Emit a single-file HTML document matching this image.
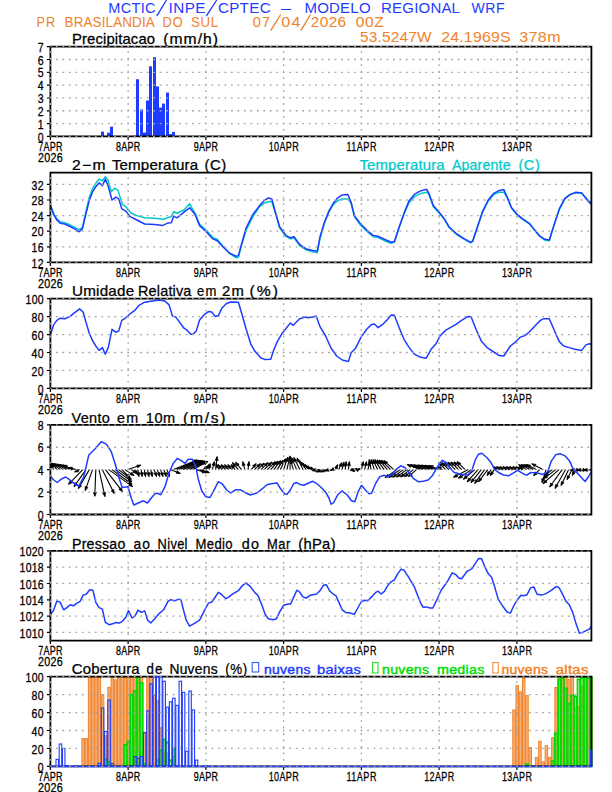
<!DOCTYPE html>
<html><head><meta charset="utf-8"><style>
html,body{margin:0;padding:0;background:#fff;width:612px;height:792px;overflow:hidden}
svg{display:block}
text{font-family:"Liberation Sans", sans-serif;white-space:pre}
</style></head><body>
<svg width="612" height="792" viewBox="0 0 612 792">
<rect width="612" height="792" fill="#fff"/>
<text transform="translate(281.10,12.50) scale(1.25,1)" font-size="14.5" fill="#1e3cff" text-anchor="start" textLength="8.96" lengthAdjust="spacing">–</text>
<text transform="translate(108.30,12.50) scale(1.0039198606271775,1)" font-size="14.5" fill="#1e3cff" text-anchor="start" textLength="47.12" lengthAdjust="spacing">MCTIC</text>
<path d="M157.00,15.60L166.20,0.50" stroke="#1e3cff" stroke-width="1.35" stroke-linecap="round"/>
<text transform="translate(168.60,12.50) scale(1.0579196217494091,1)" font-size="14.5" fill="#1e3cff" text-anchor="start" textLength="34.97" lengthAdjust="spacing">INPE</text>
<path d="M206.60,15.60L216.40,0.50" stroke="#1e3cff" stroke-width="1.35" stroke-linecap="round"/>
<text transform="translate(217.90,12.50) scale(1.04759967453214,1)" font-size="14.5" fill="#1e3cff" text-anchor="start" textLength="50.31" lengthAdjust="spacing">CPTEC</text>
<text transform="translate(304.40,12.50) scale(1.034373010821133,1)" font-size="14.5" fill="#1e3cff" text-anchor="start" textLength="64.00" lengthAdjust="spacing">MODELO</text>
<text transform="translate(381.10,12.50) scale(1.0368294635708566,1)" font-size="14.5" fill="#1e3cff" text-anchor="start" textLength="76.10" lengthAdjust="spacing">REGIONAL</text>
<text transform="translate(471.40,12.50) scale(0.9691096305269533,1)" font-size="14.5" fill="#1e3cff" text-anchor="start" textLength="34.26" lengthAdjust="spacing">WRF</text>
<text transform="translate(36.60,27.00) scale(0.88,1)" font-size="14.5" fill="#f08228" text-anchor="start" textLength="21.14" lengthAdjust="spacing">PR</text>
<text transform="translate(64.60,27.00) scale(0.9279532895422791,1)" font-size="14.5" fill="#f08228" text-anchor="start" textLength="97.20" lengthAdjust="spacing">BRASILANDIA</text>
<text transform="translate(162.40,27.00) scale(0.88,1)" font-size="14.5" fill="#f08228" text-anchor="start" textLength="22.95" lengthAdjust="spacing">DO</text>
<text transform="translate(191.10,27.00) scale(0.9142452161587531,1)" font-size="14.5" fill="#f08228" text-anchor="start" textLength="29.53" lengthAdjust="spacing">SUL</text>
<text transform="translate(252.70,27.00) scale(1.0099132589838917,1)" font-size="14.5" fill="#f08228" text-anchor="start" textLength="17.33" lengthAdjust="spacing">07</text>
<path d="M271.00,30.10L280.40,15.00" stroke="#f08228" stroke-width="1.35" stroke-linecap="round"/>
<text transform="translate(281.30,27.00) scale(1.1090458488228025,1)" font-size="14.5" fill="#f08228" text-anchor="start" textLength="17.22" lengthAdjust="spacing">04</text>
<path d="M301.20,30.10L310.20,15.00" stroke="#f08228" stroke-width="1.35" stroke-linecap="round"/>
<text transform="translate(310.70,27.00) scale(1.0629067245119308,1)" font-size="14.5" fill="#f08228" text-anchor="start" textLength="33.40" lengthAdjust="spacing">2026</text>
<text transform="translate(355.80,27.00) scale(1.0760000000000014,1)" font-size="14.5" fill="#f08228" text-anchor="start" textLength="26.12" lengthAdjust="spacing">00Z</text>
<text transform="translate(360.10,42.00) scale(1.0633792164574196,1)" font-size="14.5" fill="#f08228" text-anchor="start" textLength="67.24" lengthAdjust="spacing">53.5247W</text>
<text transform="translate(441.20,42.00) scale(1.0984055403446606,1)" font-size="14.5" fill="#f08228" text-anchor="start" textLength="63.18" lengthAdjust="spacing">24.1969S</text>
<text transform="translate(519.20,42.00) scale(1.1080485115766274,1)" font-size="14.5" fill="#f08228" text-anchor="start" textLength="37.36" lengthAdjust="spacing">378m</text>
<text transform="translate(71.90,44.40) scale(1.064243997404283,1)" font-size="14" fill="#000" text-anchor="start" textLength="78.18" lengthAdjust="spacing" stroke="#000" stroke-width="0.25">Precipitacao</text>
<text transform="translate(163.15,44.40) scale(1.12,1)" font-size="14" fill="#000" text-anchor="start" textLength="49.06" lengthAdjust="spacing" stroke="#000" stroke-width="0.25">(mm/h)</text>
<text transform="translate(71.90,170.40) scale(1.12,1)" font-size="14" fill="#000" text-anchor="start" textLength="30.09" lengthAdjust="spacing" stroke="#000" stroke-width="0.25">2−m</text>
<text transform="translate(111.90,170.40) scale(1.0815625397633286,1)" font-size="14" fill="#000" text-anchor="start" textLength="79.70" lengthAdjust="spacing" stroke="#000" stroke-width="0.25">Temperatura</text>
<text transform="translate(204.40,170.40) scale(1.0648148148148142,1)" font-size="14" fill="#000" text-anchor="start" textLength="20.57" lengthAdjust="spacing" stroke="#000" stroke-width="0.25">(C)</text>
<text transform="translate(359.40,170.40) scale(1.0688382745896423,1)" font-size="14" fill="#00c8c8" text-anchor="start" textLength="79.71" lengthAdjust="spacing" stroke="#00c8c8" stroke-width="0.25">Temperatura</text>
<text transform="translate(451.90,170.40) scale(1.011789547774063,1)" font-size="14" fill="#00c8c8" text-anchor="start" textLength="58.02" lengthAdjust="spacing" stroke="#00c8c8" stroke-width="0.25">Aparente</text>
<text transform="translate(518.40,170.40) scale(1.0390946502057636,1)" font-size="14" fill="#00c8c8" text-anchor="start" textLength="20.59" lengthAdjust="spacing" stroke="#00c8c8" stroke-width="0.25">(C)</text>
<text transform="translate(72.10,296.40) scale(1.0851329644833125,1)" font-size="14" fill="#000" text-anchor="start" textLength="57.14" lengthAdjust="spacing" stroke="#000" stroke-width="0.25">Umidade</text>
<text transform="translate(138.00,296.40) scale(1.0318244712393756,1)" font-size="14" fill="#000" text-anchor="start" textLength="51.75" lengthAdjust="spacing" stroke="#000" stroke-width="0.25">Relativa</text>
<text transform="translate(197.10,296.40) scale(0.930591259640104,1)" font-size="14" fill="#000" text-anchor="start" textLength="20.74" lengthAdjust="spacing" stroke="#000" stroke-width="0.25">em</text>
<text transform="translate(222.10,296.40) scale(1.059125964010284,1)" font-size="14" fill="#000" text-anchor="start" textLength="20.58" lengthAdjust="spacing" stroke="#000" stroke-width="0.25">2m</text>
<text transform="translate(249.60,296.40) scale(1.12,1)" font-size="14" fill="#000" text-anchor="start" textLength="25.45" lengthAdjust="spacing" stroke="#000" stroke-width="0.25">(%)</text>
<text transform="translate(71.50,422.50) scale(1.0354451576890877,1)" font-size="14" fill="#000" text-anchor="start" textLength="36.99" lengthAdjust="spacing" stroke="#000" stroke-width="0.25">Vento</text>
<text transform="translate(117.00,422.50) scale(1.0231362467866327,1)" font-size="14" fill="#000" text-anchor="start" textLength="20.62" lengthAdjust="spacing" stroke="#000" stroke-width="0.25">em</text>
<text transform="translate(145.70,422.50) scale(1.0392948953360257,1)" font-size="14" fill="#000" text-anchor="start" textLength="28.38" lengthAdjust="spacing" stroke="#000" stroke-width="0.25">10m</text>
<text transform="translate(183.10,422.50) scale(1.12,1)" font-size="14" fill="#000" text-anchor="start" textLength="37.95" lengthAdjust="spacing" stroke="#000" stroke-width="0.25">(m/s)</text>
<text transform="translate(72.00,548.50) scale(1.0144080996884737,1)" font-size="14" fill="#000" text-anchor="start" textLength="52.54" lengthAdjust="spacing" stroke="#000" stroke-width="0.25">Pressao</text>
<text transform="translate(133.40,548.50) scale(0.9884467265725292,1)" font-size="14" fill="#000" text-anchor="start" textLength="16.79" lengthAdjust="spacing" stroke="#000" stroke-width="0.25">ao</text>
<text transform="translate(157.60,548.50) scale(0.9222365038560416,1)" font-size="14" fill="#000" text-anchor="start" textLength="32.42" lengthAdjust="spacing" stroke="#000" stroke-width="0.25">Nivel</text>
<text transform="translate(195.60,548.50) scale(0.9386470896696385,1)" font-size="14" fill="#000" text-anchor="start" textLength="39.42" lengthAdjust="spacing" stroke="#000" stroke-width="0.25">Medio</text>
<text transform="translate(241.70,548.50) scale(1.0269576379974326,1)" font-size="14" fill="#000" text-anchor="start" textLength="16.75" lengthAdjust="spacing" stroke="#000" stroke-width="0.25">do</text>
<text transform="translate(266.90,548.50) scale(0.9203980099502482,1)" font-size="14" fill="#000" text-anchor="start" textLength="25.42" lengthAdjust="spacing" stroke="#000" stroke-width="0.25">Mar</text>
<text transform="translate(298.20,548.50) scale(1.057551855097867,1)" font-size="14" fill="#000" text-anchor="start" textLength="35.36" lengthAdjust="spacing" stroke="#000" stroke-width="0.25">(hPa)</text>
<text transform="translate(71.80,674.40) scale(1.0711418018307368,1)" font-size="14" fill="#000" text-anchor="start" textLength="63.39" lengthAdjust="spacing" stroke="#000" stroke-width="0.25">Cobertura</text>
<text transform="translate(146.40,674.40) scale(0.9499358151476259,1)" font-size="14" fill="#000" text-anchor="start" textLength="16.84" lengthAdjust="spacing" stroke="#000" stroke-width="0.25">de</text>
<text transform="translate(169.40,674.40) scale(0.9900990099009901,1)" font-size="14" fill="#000" text-anchor="start" textLength="48.68" lengthAdjust="spacing" stroke="#000" stroke-width="0.25">Nuvens</text>
<text transform="translate(225.30,674.40) scale(0.9550045913682269,1)" font-size="14" fill="#000" text-anchor="start" textLength="23.04" lengthAdjust="spacing" stroke="#000" stroke-width="0.25">(%)</text>
<text transform="translate(264.10,674.20) scale(1.035591274397245,1)" font-size="13.5" fill="#1e3cff" text-anchor="start" textLength="44.71" lengthAdjust="spacing" stroke="#1e3cff" stroke-width="0.45">nuvens</text>
<text transform="translate(317.00,674.20) scale(1.0914681014604142,1)" font-size="13.5" fill="#1e3cff" text-anchor="start" textLength="40.13" lengthAdjust="spacing" stroke="#1e3cff" stroke-width="0.45">baixas</text>
<text transform="translate(382.10,674.20) scale(1.0493685419058552,1)" font-size="13.5" fill="#00dc00" text-anchor="start" textLength="44.69" lengthAdjust="spacing" stroke="#00dc00" stroke-width="0.45">nuvens</text>
<text transform="translate(437.00,674.20) scale(1.0590397427061788,1)" font-size="13.5" fill="#00dc00" text-anchor="start" textLength="44.66" lengthAdjust="spacing" stroke="#00dc00" stroke-width="0.45">medias</text>
<text transform="translate(501.40,674.20) scale(1.0424799081515495,1)" font-size="13.5" fill="#f08228" text-anchor="start" textLength="44.70" lengthAdjust="spacing" stroke="#f08228" stroke-width="0.45">nuvens</text>
<text transform="translate(555.70,674.20) scale(1.1041009463722398,1)" font-size="13.5" fill="#f08228" text-anchor="start" textLength="29.62" lengthAdjust="spacing" stroke="#f08228" stroke-width="0.45">altas</text>
<rect x="72" y="135.76" width="3" height="0.64" fill="#1e3cff"/>
<rect x="101" y="131.66" width="3" height="4.74" fill="#1e3cff"/>
<rect x="107" y="132.68" width="3" height="3.72" fill="#1e3cff"/>
<rect x="110" y="126.66" width="3" height="9.74" fill="#1e3cff"/>
<rect x="133" y="135.76" width="3" height="0.64" fill="#1e3cff"/>
<rect x="136" y="79.25" width="3" height="57.15" fill="#1e3cff"/>
<rect x="140" y="109.49" width="3" height="26.91" fill="#1e3cff"/>
<rect x="143" y="132.56" width="3" height="3.84" fill="#1e3cff"/>
<rect x="146" y="100.52" width="3" height="35.88" fill="#1e3cff"/>
<rect x="149" y="66.31" width="3" height="70.09" fill="#1e3cff"/>
<rect x="153" y="57.21" width="3" height="79.19" fill="#1e3cff"/>
<rect x="156" y="86.42" width="3" height="49.98" fill="#1e3cff"/>
<rect x="159" y="107.57" width="3" height="28.83" fill="#1e3cff"/>
<rect x="162" y="103.60" width="3" height="32.80" fill="#1e3cff"/>
<rect x="166" y="92.58" width="3" height="43.82" fill="#1e3cff"/>
<rect x="169" y="134.09" width="3" height="2.31" fill="#1e3cff"/>
<rect x="172" y="131.92" width="3" height="4.48" fill="#1e3cff"/>
<polyline points="50.4,204.4 53.6,213.3 56.9,218.9 60.2,221.8 64.7,222.7 69.1,224.4 74.7,227.3 79.1,229.6 82.4,227.3 85.8,212.2 89.1,197.8 92.4,188.9 95.8,183.3 99.1,179.3 102.4,180.7 105.3,176.7 108.0,180.0 111.3,191.8 114.7,188.2 118.0,190.4 122.4,204.4 125.8,206.7 131.3,213.3 136.9,215.6 144.7,217.8 154.7,218.2 163.6,219.3 169.1,217.1 171.3,216.7 173.6,211.8 176.9,213.3 184.0,210.0 189.6,203.8 195.1,213.3 199.6,224.4 206.2,230.0 212.9,237.8 217.3,239.3 222.9,246.2 229.6,253.3 236.2,257.8 238.4,257.1 241.8,244.4 246.2,230.0 252.9,216.7 259.6,206.7 264.0,203.3 268.4,201.8 271.8,201.8 275.1,212.2 279.6,227.8 286.2,236.7 290.7,238.9 294.0,237.8 299.6,245.6 306.2,250.0 312.9,251.8 317.3,252.7 320.0,238.9 324.4,223.3 328.9,212.2 333.3,204.4 337.8,200.7 342.2,198.9 347.8,198.9 351.1,203.3 354.4,216.7 360.0,224.4 366.7,231.1 373.3,236.7 377.8,237.3 384.4,240.7 391.1,243.3 394.4,242.2 398.9,228.2 404.4,213.3 408.9,202.9 414.4,196.7 420.0,193.8 426.7,192.2 428.9,194.4 433.3,206.7 440.0,214.0 444.4,219.3 448.9,227.3 456.0,234.0 462.7,238.4 470.4,242.9 472.7,241.6 477.1,228.2 482.7,211.8 488.2,201.1 493.8,194.4 499.3,192.2 503.8,192.2 507.1,197.8 511.6,208.2 517.1,214.9 522.7,219.3 529.3,223.8 533.8,229.3 539.3,236.0 544.9,240.2 549.3,240.7 553.8,226.0 559.3,209.6 564.9,198.9 570.4,194.4 576.0,192.7 581.6,193.1 587.1,198.9 591.4,203.3" stroke="#00c8c8" stroke-width="1.5" fill="none" stroke-linejoin="round"/>
<polyline points="50.4,205.6 53.6,214.4 56.9,220.0 60.2,223.3 64.7,224.0 69.1,226.0 74.7,228.9 79.1,231.8 82.4,228.9 85.8,214.4 89.1,201.1 92.4,192.2 95.8,186.7 99.1,182.9 102.4,185.6 105.3,179.3 108.0,185.6 112.0,200.0 115.8,197.1 118.7,198.9 121.8,208.9 125.8,211.1 130.2,216.7 136.9,220.0 144.7,224.0 154.7,224.4 162.4,225.6 168.0,222.9 171.3,222.7 173.6,216.2 176.9,217.8 181.3,214.4 184.0,212.2 189.6,207.8 195.1,214.4 199.6,225.6 206.2,231.8 212.9,238.9 217.3,240.7 222.9,246.7 229.6,253.3 236.2,256.2 238.4,255.6 241.8,243.3 246.2,227.8 252.9,214.4 259.6,205.6 264.0,200.7 268.4,198.0 271.8,198.9 275.1,211.1 279.6,226.7 286.2,235.6 290.7,237.8 294.0,236.7 299.6,244.4 306.2,248.9 312.9,250.4 317.3,251.1 320.0,236.7 324.4,222.2 328.9,211.1 333.3,203.3 337.8,197.8 342.2,194.9 347.8,194.4 351.1,202.2 354.4,215.6 360.0,223.3 366.7,230.0 373.3,235.6 377.8,236.2 384.4,239.3 391.1,242.2 394.4,241.6 398.9,227.8 404.4,212.2 408.9,201.1 414.4,194.4 420.0,191.1 426.7,189.3 428.9,193.3 433.3,205.6 440.0,213.3 444.4,218.9 448.9,226.7 456.0,233.3 462.7,237.8 470.4,242.2 472.7,241.1 477.1,227.8 482.7,211.1 488.2,200.0 493.8,193.3 499.3,190.4 503.8,189.6 507.1,196.7 511.6,207.8 517.1,214.4 522.7,218.9 529.3,223.3 533.8,228.9 539.3,235.6 544.9,239.3 549.3,240.0 553.8,225.6 559.3,208.9 564.9,198.4 570.4,194.4 576.0,192.2 581.6,192.9 587.1,200.0 591.4,204.4" stroke="#1e3cff" stroke-width="1.5" fill="none" stroke-linejoin="round"/>
<polyline points="50.4,334.9 53.6,324.9 56.9,320.4 60.2,318.2 64.7,318.7 70.2,316.4 74.7,312.7 79.6,308.9 83.1,312.0 85.8,321.6 89.1,332.7 92.4,340.4 95.8,346.0 99.1,350.4 102.4,347.6 105.3,354.2 108.4,347.1 112.0,329.3 115.8,332.2 118.7,331.1 121.8,320.4 125.8,317.8 130.2,313.8 134.7,310.4 139.1,305.3 144.7,302.2 152.4,300.9 159.1,300.0 164.7,300.9 169.1,304.9 172.4,316.0 175.8,317.1 184.0,328.2 187.3,330.4 190.7,334.2 192.9,334.2 196.2,331.1 199.6,320.0 204.0,314.9 208.4,311.6 211.8,312.0 215.1,316.4 218.4,315.6 221.8,308.2 226.2,303.8 230.7,302.0 238.4,302.2 241.8,313.8 246.2,329.3 250.7,343.8 255.1,351.6 260.7,357.8 265.1,359.6 270.7,359.3 274.0,349.3 277.3,341.6 281.8,333.8 286.2,328.2 290.2,323.1 293.3,325.3 299.6,318.7 305.1,317.1 308.4,317.8 312.9,317.1 316.2,316.0 320.0,326.7 325.6,336.0 331.1,348.2 336.7,356.0 342.2,360.0 348.4,361.6 351.1,352.7 355.6,348.2 361.1,337.1 366.7,329.3 371.6,324.4 374.4,324.0 378.2,327.6 383.3,323.8 387.8,319.3 391.1,314.9 394.4,315.3 398.9,327.1 404.0,339.3 408.9,347.1 414.4,354.2 420.0,357.1 426.2,358.2 431.1,349.3 436.0,343.8 440.0,336.0 445.6,330.4 451.1,327.1 456.0,324.4 461.6,320.4 468.2,316.4 471.1,316.7 476.0,329.3 481.6,341.6 487.1,347.6 493.8,352.0 499.3,355.6 503.8,356.0 510.4,346.0 516.0,341.6 520.4,337.1 524.9,335.6 529.3,332.0 534.9,326.0 540.4,320.4 543.8,318.7 549.3,318.7 553.8,329.3 559.3,341.6 563.8,346.0 569.3,347.6 574.9,349.3 581.6,350.4 586.0,344.9 589.3,343.8 591.4,344.4" stroke="#1e3cff" stroke-width="1.5" fill="none" stroke-linejoin="round"/>
<clipPath id="cw"><rect x="50.4" y="424.8" width="540.9965" height="89.69999999999999"/></clipPath>
<path clip-path="url(#cw)" d="M50.4,469.6L50.9,463.6M53.6,469.6L50.6,463.1M56.9,469.6L51.9,463.1M60.1,469.6L52.1,463.1M63.4,469.6L54.4,463.6M66.6,469.6L56.6,464.1M69.8,469.6L59.8,464.6M73.1,469.6L63.1,465.1M76.3,469.6L68.3,467.6M79.6,469.6L74.6,472.1M82.8,469.6L68.5,484.3M86.0,469.6L74.0,486.6M89.3,469.6L78.3,488.6M92.5,469.6L85.2,490.6M95.8,469.6L94.8,496.3M99.0,469.6L105.0,496.6M102.2,469.6L114.2,493.6M105.5,469.6L122.5,491.6M108.7,469.6L132.7,486.6M112.0,469.6L132.0,484.3M115.2,469.6L131.9,481.8M118.4,469.6L131.4,479.3M121.7,469.6L130.0,477.6M124.9,469.6L134.1,475.6M128.1,469.6L140.9,465.1M131.4,469.6L136.8,473.4M134.6,469.6L137.6,474.6M137.9,469.6L138.9,476.6M141.1,469.6L142.2,476.6M144.3,469.6L145.6,476.6M147.6,469.6L149.0,476.6M150.8,469.6L152.3,476.6M154.1,469.6L156.6,476.6M157.3,469.6L159.8,476.6M160.5,469.6L163.0,476.6M163.8,469.6L166.3,476.6M167.0,469.6L169.5,476.6M170.3,469.6L180.3,473.4M173.5,469.6L197.0,459.9M176.7,469.6L199.1,460.2M180.0,469.6L201.1,460.4M183.2,469.6L203.2,460.6M186.5,469.6L204.8,461.0M189.7,469.6L206.4,461.3M192.9,469.6L207.9,461.6M196.2,469.6L206.2,472.6M199.4,469.6L209.4,472.6M202.7,469.6L208.7,466.6M205.9,469.6L208.9,464.6M209.1,469.6L210.1,463.6M212.4,469.6L214.4,461.6M215.6,469.6L217.1,456.6M218.9,469.6L215.9,463.6M222.1,469.6L218.1,464.6M225.3,469.6L221.3,464.6M228.6,469.6L224.6,464.6M231.8,469.6L227.8,464.6M235.1,469.6L231.1,464.6M238.3,469.6L232.3,462.6M241.5,469.6L235.5,462.2M244.8,469.6L242.8,461.6M248.0,469.6L249.0,461.6M251.2,469.6L256.2,463.6M254.5,469.6L260.5,463.6M257.7,469.6L264.2,463.1M261.0,469.6L268.0,462.6M264.2,469.6L271.7,462.1M267.4,469.6L275.4,461.6M270.7,469.6L278.0,461.1M273.9,469.6L280.6,460.6M277.2,469.6L283.2,460.1M280.4,469.6L285.5,458.8M283.6,469.6L287.8,457.3M286.9,469.6L290.1,455.9M290.1,469.6L290.1,456.6M293.4,469.6L290.4,459.6M296.6,469.6L291.6,457.6M299.8,469.6L293.8,457.6M303.1,469.6L297.1,458.1M306.3,469.6L300.3,461.6M309.6,469.6L302.6,463.6M312.8,469.6L304.8,465.6M316.0,469.6L308.0,467.6M319.3,469.6L312.3,470.6M322.5,469.6L316.5,472.1M325.8,469.6L320.8,472.1M329.0,469.6L325.0,471.1M332.2,469.6L330.2,470.6M335.5,469.6L337.5,464.6M338.7,469.6L341.7,462.6M342.0,469.6L344.0,462.1M345.2,469.6L346.2,461.6M348.4,469.6L349.4,461.6M351.7,469.6L354.2,471.6M354.9,469.6L356.9,468.6M358.2,469.6L360.2,468.6M361.4,469.6L363.4,461.6M364.6,469.6L366.6,461.6M367.9,469.6L369.9,461.6M371.1,469.6L369.1,459.6M374.3,469.6L371.0,459.6M377.6,469.6L372.9,459.6M380.8,469.6L374.8,459.6M384.1,469.6L377.1,459.9M387.3,469.6L379.3,460.1M390.5,469.6L381.5,460.4M393.8,469.6L383.8,460.6M397.0,469.6L385.0,477.6M400.3,469.6L388.9,477.5M403.5,469.6L392.8,477.3M406.7,469.6L396.7,477.1M410.0,469.6L400.7,477.0M413.2,469.6L404.6,476.8M416.5,469.6L408.5,476.6M419.7,469.6L407.2,464.6M422.9,469.6L410.9,464.8M426.2,469.6L414.5,465.0M429.4,469.6L418.2,465.1M432.7,469.6L421.8,465.3M435.9,469.6L425.5,465.5M439.1,469.6L429.1,465.6M442.4,469.6L437.4,466.6M445.6,469.6L438.6,462.6M448.9,469.6L441.7,462.5M452.1,469.6L444.8,462.3M455.3,469.6L447.8,462.1M458.6,469.6L450.9,462.0M461.8,469.6L454.0,461.8M465.1,469.6L457.1,461.6M468.3,469.6L453.5,477.2M471.5,469.6L458.4,478.3M474.8,469.6L463.4,479.3M478.0,469.6L467.2,481.8M481.3,469.6L471.0,482.6M484.5,469.6L474.7,483.4M487.7,469.6L478.4,481.8M491.0,469.6L487.0,475.6M494.2,469.6L490.2,475.6M497.5,469.6L493.5,466.6M500.7,469.6L496.7,466.6M503.9,469.6L499.9,466.6M507.2,469.6L503.2,466.6M510.4,469.6L506.4,466.6M513.6,469.6L509.6,466.6M516.9,469.6L512.9,466.6M520.1,469.6L516.1,466.6M523.4,469.6L519.4,466.6M526.6,469.6L518.6,464.6M529.8,469.6L521.2,464.6M533.1,469.6L523.8,464.6M536.3,469.6L526.3,464.6M539.6,469.6L533.6,475.6M542.8,469.6L531.8,463.8M546.0,469.6L542.0,482.6M549.3,469.6L544.3,477.6M552.5,469.6L544.5,475.6M555.8,469.6L543.8,478.6M559.0,469.6L543.0,483.6M562.2,469.6L549.6,487.0M565.5,469.6L555.0,488.4M568.7,469.6L561.0,485.6M572.0,469.6L567.0,479.6M575.2,469.6L572.2,475.6M578.4,469.6L570.4,470.1M581.7,469.6L573.7,470.1M584.9,469.6L576.9,470.1M588.2,469.6L580.2,470.1M591.4,469.6L583.4,470.1" stroke="#000" stroke-width="1.1" fill="none"/>
<path clip-path="url(#cw)" d="M49.0,467.4L50.9,463.6L52.1,467.7ZM50.8,467.3L50.6,463.1L53.7,466.0ZM53.0,467.2L51.9,463.1L55.5,465.3ZM54.1,466.8L52.1,463.1L56.1,464.4ZM56.7,467.1L54.4,463.6L58.5,464.5ZM59.3,467.4L56.6,464.1L60.8,464.6ZM62.6,467.8L59.8,464.6L64.0,465.0ZM66.0,468.2L63.1,465.1L67.3,465.3ZM71.7,470.1L68.3,467.6L72.5,467.1ZM78.7,471.8L74.6,472.1L77.3,469.0ZM72.3,482.7L68.5,484.3L70.1,480.5ZM77.6,484.4L74.0,486.6L75.0,482.6ZM81.6,486.1L78.3,488.6L78.9,484.5ZM88.0,487.5L85.2,490.6L85.0,486.5ZM96.5,492.5L94.8,496.3L93.3,492.4ZM105.7,492.5L105.0,496.6L102.6,493.2ZM113.9,489.5L114.2,493.6L111.1,490.9ZM121.3,487.6L122.5,491.6L118.8,489.5ZM130.4,483.1L132.7,486.6L128.6,485.7ZM129.7,480.8L132.0,484.3L127.9,483.3ZM129.7,478.3L131.9,481.8L127.8,480.8ZM129.2,475.8L131.4,479.3L127.4,478.3ZM128.3,473.8L130.0,477.6L126.1,476.1ZM131.7,472.2L134.1,475.6L130.0,474.8ZM136.8,465.0L140.9,465.1L137.8,467.9ZM134.5,469.9L136.8,473.4L132.7,472.5ZM137.0,470.5L137.6,474.6L134.3,472.1ZM139.9,472.6L138.9,476.6L136.8,473.0ZM143.2,472.6L142.2,476.6L140.1,473.1ZM146.5,472.5L145.6,476.6L143.4,473.1ZM149.8,472.5L149.0,476.6L146.7,473.1ZM153.0,472.5L152.3,476.6L150.0,473.2ZM156.7,472.5L156.6,476.6L153.8,473.5ZM160.0,472.5L159.8,476.6L157.0,473.5ZM163.2,472.5L163.0,476.6L160.3,473.5ZM166.5,472.5L166.3,476.6L163.5,473.5ZM169.7,472.5L169.5,476.6L166.7,473.5ZM177.2,470.6L180.3,473.4L176.1,473.5ZM192.8,460.0L197.0,459.9L194.0,462.9ZM194.9,460.3L199.1,460.2L196.1,463.2ZM196.9,460.5L201.1,460.4L198.2,463.4ZM199.0,460.8L203.2,460.6L200.3,463.7ZM200.6,461.2L204.8,461.0L201.9,464.1ZM202.2,461.7L206.4,461.3L203.6,464.5ZM203.8,462.1L207.9,461.6L205.2,464.9ZM202.9,470.0L206.2,472.6L202.0,473.0ZM206.1,470.0L209.4,472.6L205.2,473.0ZM204.5,467.0L208.7,466.6L205.9,469.8ZM205.5,467.2L208.9,464.6L208.2,468.8ZM207.9,467.2L210.1,463.6L211.0,467.7ZM211.9,465.0L214.4,461.6L215.0,465.8ZM215.1,460.3L217.1,456.6L218.2,460.7ZM216.2,467.8L215.9,463.6L219.0,466.4ZM219.3,468.7L218.1,464.6L221.8,466.7ZM222.5,468.7L221.3,464.6L225.0,466.7ZM225.8,468.7L224.6,464.6L228.2,466.7ZM229.0,468.7L227.8,464.6L231.5,466.7ZM232.3,468.7L231.1,464.6L234.7,466.7ZM233.6,466.6L232.3,462.6L236.0,464.6ZM236.8,466.3L235.5,462.2L239.2,464.3ZM242.2,465.8L242.8,461.6L245.2,465.0ZM247.0,465.3L249.0,461.6L250.1,465.7ZM252.5,465.6L256.2,463.6L255.0,467.6ZM256.6,465.3L260.5,463.6L258.8,467.5ZM260.4,464.8L264.2,463.1L262.6,467.0ZM264.1,464.3L268.0,462.6L266.3,466.5ZM267.8,463.8L271.7,462.1L270.1,466.0ZM271.6,463.3L275.4,461.6L273.8,465.5ZM274.3,463.1L278.0,461.1L276.7,465.1ZM277.0,462.8L280.6,460.6L279.5,464.7ZM279.8,462.6L283.2,460.1L282.4,464.3ZM282.4,461.6L285.5,458.8L285.3,462.9ZM285.0,460.5L287.8,457.3L288.0,461.5ZM287.7,459.4L290.1,455.9L290.7,460.1ZM288.5,460.5L290.1,456.6L291.7,460.5ZM290.0,463.8L290.4,459.6L293.0,462.9ZM291.6,461.8L291.6,457.6L294.6,460.6ZM294.2,461.8L293.8,457.6L297.0,460.4ZM297.5,462.3L297.1,458.1L300.3,460.9ZM301.4,465.7L300.3,461.6L303.9,463.8ZM304.5,467.4L302.6,463.6L306.5,465.0ZM307.6,468.8L304.8,465.6L309.0,466.0ZM311.4,470.1L308.0,467.6L312.2,467.1ZM316.4,471.7L312.3,470.6L315.9,468.5ZM320.7,472.1L316.5,472.1L319.5,469.2ZM324.9,471.8L320.8,472.1L323.5,469.0ZM329.2,471.3L325.0,471.1L328.1,468.3ZM334.4,470.3L330.2,470.6L333.0,467.5ZM334.6,467.7L337.5,464.6L337.5,468.8ZM338.7,465.6L341.7,462.6L341.6,466.8ZM341.4,465.5L344.0,462.1L344.5,466.3ZM344.2,465.3L346.2,461.6L347.3,465.7ZM347.4,465.3L349.4,461.6L350.5,465.7ZM352.1,468.0L354.2,471.6L350.1,470.4ZM352.7,469.0L356.9,468.6L354.1,471.8ZM356.0,469.0L360.2,468.6L357.4,471.8ZM360.9,465.0L363.4,461.6L364.0,465.8ZM364.2,465.0L366.6,461.6L367.2,465.8ZM367.4,465.0L369.9,461.6L370.5,465.8ZM368.3,463.8L369.1,459.6L371.4,463.2ZM370.8,463.8L371.0,459.6L373.7,462.8ZM373.1,463.8L372.9,459.6L376.0,462.5ZM375.5,463.8L374.8,459.6L378.2,462.2ZM378.1,464.0L377.1,459.9L380.6,462.1ZM380.6,464.1L379.3,460.1L383.0,462.1ZM383.1,464.3L381.5,460.4L385.4,462.1ZM385.6,464.4L383.8,460.6L387.7,462.1ZM389.1,476.8L385.0,477.6L387.4,474.2ZM393.0,476.6L388.9,477.5L391.2,474.0ZM396.9,476.3L392.8,477.3L395.1,473.8ZM400.8,476.1L396.7,477.1L398.9,473.6ZM404.7,475.8L400.7,477.0L402.7,473.3ZM408.6,475.5L404.6,476.8L406.6,473.1ZM412.4,475.3L408.5,476.6L410.4,472.9ZM410.2,467.6L407.2,464.6L411.4,464.6ZM413.9,467.7L410.9,464.8L415.1,464.8ZM417.5,467.9L414.5,465.0L418.7,465.0ZM421.2,468.1L418.2,465.1L422.4,465.1ZM424.9,468.2L421.8,465.3L426.0,465.3ZM428.5,468.4L425.5,465.5L429.7,465.5ZM432.2,468.6L429.1,465.6L433.3,465.6ZM439.9,470.0L437.4,466.6L441.5,467.3ZM440.3,466.5L438.6,462.6L442.5,464.3ZM443.3,466.3L441.7,462.5L445.6,464.1ZM446.4,466.2L444.8,462.3L448.6,464.0ZM449.5,466.0L447.8,462.1L451.7,463.8ZM452.6,465.8L450.9,462.0L454.8,463.6ZM455.6,465.7L454.0,461.8L457.8,463.5ZM458.7,465.5L457.1,461.6L460.9,463.3ZM457.7,476.9L453.5,477.2L456.2,474.1ZM462.6,477.5L458.4,478.3L460.8,474.8ZM467.4,478.0L463.4,479.3L465.3,475.6ZM471.0,480.0L467.2,481.8L468.6,477.9ZM474.6,480.6L471.0,482.6L472.1,478.6ZM478.2,481.2L474.7,483.4L475.7,479.4ZM482.0,479.7L478.4,481.8L479.5,477.8ZM490.4,473.3L487.0,475.6L487.8,471.5ZM493.7,473.3L490.2,475.6L491.1,471.5ZM495.6,470.2L493.5,466.6L497.5,467.7ZM498.9,470.2L496.7,466.6L500.7,467.7ZM502.1,470.2L499.9,466.6L504.0,467.7ZM505.3,470.2L503.2,466.6L507.2,467.7ZM508.6,470.2L506.4,466.6L510.5,467.7ZM511.8,470.2L509.6,466.6L513.7,467.7ZM515.1,470.2L512.9,466.6L516.9,467.7ZM518.3,470.2L516.1,466.6L520.2,467.7ZM521.5,470.2L519.4,466.6L523.4,467.7ZM521.1,468.0L518.6,464.6L522.7,465.4ZM523.8,468.0L521.2,464.6L525.3,465.2ZM526.4,467.9L523.8,464.6L527.9,465.1ZM529.1,467.8L526.3,464.6L530.5,465.0ZM537.4,474.0L533.6,475.6L535.2,471.8ZM534.5,467.1L531.8,463.8L536.0,464.3ZM544.7,479.4L542.0,482.6L541.7,478.5ZM547.7,475.2L544.3,477.6L545.0,473.5ZM548.6,474.6L544.5,475.6L546.7,472.1ZM547.8,477.6L543.8,478.6L545.9,475.1ZM547.0,482.3L543.0,483.6L544.9,479.9ZM553.2,484.8L549.6,487.0L550.7,483.0ZM558.3,485.8L555.0,488.4L555.5,484.3ZM564.1,482.8L561.0,485.6L561.3,481.5ZM570.1,476.9L567.0,479.6L567.3,475.5ZM575.3,472.9L572.2,475.6L572.5,471.5ZM574.4,471.5L570.4,470.1L574.2,468.3ZM577.7,471.5L573.7,470.1L577.5,468.3ZM580.9,471.5L576.9,470.1L580.7,468.3ZM584.1,471.5L580.2,470.1L583.9,468.3ZM587.4,471.5L583.4,470.1L587.2,468.3Z" stroke="#000" stroke-width="0.6" fill="#000" stroke-linejoin="round"/>
<polyline points="50.4,476.3 53.8,480.0 57.2,482.5 61.3,479.2 65.5,477.0 68.8,479.2 73.0,482.5 78.8,486.3 83.8,476.7 88.8,455.0 94.7,449.2 101.3,441.7 106.3,444.2 111.3,451.7 115.5,465.0 119.7,480.0 122.2,487.5 128.0,486.7 131.3,498.3 133.8,505.0 143.3,500.8 147.5,503.0 151.7,497.5 155.0,493.7 157.5,493.3 160.8,494.7 165.0,486.7 169.2,472.5 173.3,463.3 177.5,458.3 181.7,460.8 185.0,463.3 188.3,459.2 192.5,459.2 195.8,466.7 198.3,479.2 201.7,490.8 205.8,496.7 210.0,497.5 213.3,491.7 218.3,481.7 222.5,484.2 226.7,490.0 230.8,493.0 235.8,489.7 240.0,489.7 245.3,492.5 250.3,495.0 257.0,493.0 262.8,488.3 267.0,484.7 271.2,483.7 277.0,483.0 280.3,488.3 284.5,493.7 287.0,494.2 290.3,490.0 293.7,483.7 296.2,482.5 299.5,484.2 303.7,485.3 308.7,483.0 312.8,481.3 317.0,483.7 321.2,487.5 325.3,491.7 328.7,497.5 331.2,504.2 333.7,502.5 337.8,494.7 342.0,490.8 347.3,495.0 351.5,500.8 354.8,501.7 358.2,491.7 361.5,485.3 364.8,489.2 369.0,493.7 371.5,493.3 375.7,483.3 379.8,476.7 384.0,475.3 388.2,476.7 392.3,474.2 396.5,469.2 400.7,465.8 404.8,467.5 409.0,472.5 413.2,478.3 418.2,481.7 423.2,481.3 428.2,480.0 432.3,475.8 436.5,468.3 442.3,460.3 446.0,462.5 449.3,467.5 454.3,472.5 461.0,474.2 467.7,475.0 471.8,470.8 475.2,460.0 478.5,454.2 481.8,453.3 486.8,457.5 491.0,462.5 494.3,469.2 498.5,472.5 503.5,475.0 508.5,475.8 512.7,473.3 517.7,470.3 522.7,473.3 526.1,475.1 526.8,475.0 531.0,472.5 531.7,472.6 537.3,473.0 542.9,474.4 547.8,471.6 551.3,461.1 555.6,454.8 560.5,453.8 565.4,456.2 569.6,461.1 573.8,470.2 578.0,473.7 585.1,481.5 588.6,476.5 591.4,471.6" stroke="#1e3cff" stroke-width="1.5" fill="none" stroke-linejoin="round"/>
<polyline points="50.4,614.7 53.6,610.2 56.9,600.9 60.2,602.4 63.6,609.8 66.9,607.6 70.2,604.7 73.6,605.8 76.9,603.1 80.2,601.3 83.1,595.1 86.2,594.2 89.8,589.8 92.9,590.2 95.8,602.4 99.1,607.6 102.4,609.1 105.3,622.4 109.1,624.7 113.6,623.6 115.8,622.4 119.1,623.1 122.4,621.3 125.8,617.3 128.4,610.7 132.0,618.0 135.1,615.8 138.0,610.2 141.3,612.4 144.7,610.9 147.6,620.2 150.7,622.9 154.7,618.7 159.1,613.6 163.6,609.8 168.0,601.3 170.7,599.6 174.2,600.9 179.1,599.1 180.9,599.6 184.0,612.0 186.2,620.2 189.6,626.2 194.0,623.6 199.6,620.2 204.0,611.3 208.4,603.1 211.8,602.0 215.1,597.3 218.4,592.4 221.8,594.7 225.8,598.7 228.4,597.3 232.4,594.2 238.4,590.7 242.2,585.8 245.8,582.9 249.6,585.8 255.1,592.9 257.8,595.1 261.8,604.7 265.1,614.2 268.4,618.7 272.9,619.8 276.2,619.1 279.6,612.0 283.6,605.3 288.4,604.0 290.7,604.0 294.0,596.4 296.9,590.2 299.6,592.0 302.9,596.9 306.2,598.0 310.7,595.1 316.2,594.2 320.0,590.7 323.3,585.3 326.2,584.7 330.0,591.3 333.3,594.2 336.0,595.8 338.9,602.4 342.2,609.8 345.6,612.4 350.0,613.1 354.4,614.2 357.8,608.0 361.1,602.0 364.4,600.2 367.8,600.7 371.6,596.9 375.6,592.4 378.2,591.3 381.1,594.0 384.4,591.3 387.8,585.3 391.1,581.8 394.4,579.8 397.8,573.6 401.1,569.1 404.0,570.2 407.8,575.8 411.1,581.3 414.4,586.9 417.8,595.8 421.1,604.0 423.3,607.3 426.2,606.9 430.0,608.0 432.9,608.0 436.7,600.2 441.1,590.2 444.4,585.8 447.8,580.9 452.2,572.9 456.0,574.7 458.7,578.0 461.6,578.7 467.1,571.3 472.0,568.7 476.0,562.4 478.7,558.4 481.6,558.7 484.9,566.9 488.2,573.6 491.6,577.3 494.9,587.6 498.2,599.1 502.7,606.2 507.1,612.0 510.4,613.1 513.8,605.8 517.1,600.2 520.9,595.3 523.8,595.8 527.1,594.7 530.4,588.0 533.8,586.9 537.1,594.2 541.6,595.1 546.0,593.6 551.6,590.2 556.4,586.4 559.3,588.0 562.7,594.7 566.0,601.3 569.3,604.7 572.7,612.4 576.0,623.6 579.3,632.9 582.7,632.4 587.1,630.2 589.3,629.1 591.4,625.8" stroke="#1e3cff" stroke-width="1.5" fill="none" stroke-linejoin="round"/>
<clipPath id="cc"><rect x="50.4" y="675.7" width="542.1965" height="90.69999999999993"/></clipPath><g clip-path="url(#cc)">
<rect x="81.89" y="738.59" width="2.5" height="27.81" fill="#f6b07c" stroke="#f08228" stroke-width="1.0"/>
<rect x="85.13" y="738.59" width="2.5" height="27.81" fill="#f6b07c" stroke="#f08228" stroke-width="1.0"/>
<rect x="88.37" y="676.70" width="2.5" height="89.70" fill="#f6b07c" stroke="#f08228" stroke-width="1.0"/>
<rect x="91.61" y="676.70" width="2.5" height="89.70" fill="#f6b07c" stroke="#f08228" stroke-width="1.0"/>
<rect x="94.85" y="676.70" width="2.5" height="89.70" fill="#f6b07c" stroke="#f08228" stroke-width="1.0"/>
<rect x="98.09" y="676.70" width="2.5" height="89.70" fill="#f6b07c" stroke="#f08228" stroke-width="1.0"/>
<rect x="101.33" y="694.64" width="2.5" height="71.76" fill="#f6b07c" stroke="#f08228" stroke-width="1.0"/>
<rect x="104.57" y="735.90" width="2.5" height="30.50" fill="#f6b07c" stroke="#f08228" stroke-width="1.0"/>
<rect x="107.81" y="687.46" width="2.5" height="78.94" fill="#f6b07c" stroke="#f08228" stroke-width="1.0"/>
<rect x="111.05" y="676.70" width="2.5" height="89.70" fill="#f6b07c" stroke="#f08228" stroke-width="1.0"/>
<rect x="114.29" y="679.84" width="2.5" height="86.56" fill="#f6b07c" stroke="#f08228" stroke-width="1.0"/>
<rect x="117.53" y="676.70" width="2.5" height="89.70" fill="#f6b07c" stroke="#f08228" stroke-width="1.0"/>
<rect x="120.77" y="676.70" width="2.5" height="89.70" fill="#f6b07c" stroke="#f08228" stroke-width="1.0"/>
<rect x="124.01" y="676.70" width="2.5" height="89.70" fill="#f6b07c" stroke="#f08228" stroke-width="1.0"/>
<rect x="127.25" y="676.70" width="2.5" height="89.70" fill="#f6b07c" stroke="#f08228" stroke-width="1.0"/>
<rect x="130.49" y="676.70" width="2.5" height="89.70" fill="#f6b07c" stroke="#f08228" stroke-width="1.0"/>
<rect x="133.73" y="676.70" width="2.5" height="89.70" fill="#f6b07c" stroke="#f08228" stroke-width="1.0"/>
<rect x="136.97" y="676.70" width="2.5" height="89.70" fill="#f6b07c" stroke="#f08228" stroke-width="1.0"/>
<rect x="140.21" y="676.70" width="2.5" height="89.70" fill="#f6b07c" stroke="#f08228" stroke-width="1.0"/>
<rect x="143.45" y="732.31" width="2.5" height="34.09" fill="#f6b07c" stroke="#f08228" stroke-width="1.0"/>
<rect x="146.69" y="676.70" width="2.5" height="89.70" fill="#f6b07c" stroke="#f08228" stroke-width="1.0"/>
<rect x="149.92" y="677.60" width="2.5" height="88.80" fill="#f6b07c" stroke="#f08228" stroke-width="1.0"/>
<rect x="153.16" y="695.54" width="2.5" height="70.86" fill="#f6b07c" stroke="#f08228" stroke-width="1.0"/>
<rect x="156.40" y="700.92" width="2.5" height="65.48" fill="#f6b07c" stroke="#f08228" stroke-width="1.0"/>
<rect x="159.64" y="727.83" width="2.5" height="38.57" fill="#f6b07c" stroke="#f08228" stroke-width="1.0"/>
<rect x="162.88" y="752.05" width="2.5" height="14.35" fill="#f6b07c" stroke="#f08228" stroke-width="1.0"/>
<rect x="166.12" y="752.94" width="2.5" height="13.46" fill="#f6b07c" stroke="#f08228" stroke-width="1.0"/>
<rect x="172.60" y="756.53" width="2.5" height="9.87" fill="#f6b07c" stroke="#f08228" stroke-width="1.0"/>
<rect x="512.75" y="709.89" width="2.5" height="56.51" fill="#f6b07c" stroke="#f08228" stroke-width="1.0"/>
<rect x="515.99" y="685.67" width="2.5" height="80.73" fill="#f6b07c" stroke="#f08228" stroke-width="1.0"/>
<rect x="519.23" y="691.95" width="2.5" height="74.45" fill="#f6b07c" stroke="#f08228" stroke-width="1.0"/>
<rect x="522.47" y="677.96" width="2.5" height="88.44" fill="#f6b07c" stroke="#f08228" stroke-width="1.0"/>
<rect x="525.71" y="695.54" width="2.5" height="70.86" fill="#f6b07c" stroke="#f08228" stroke-width="1.0"/>
<rect x="528.95" y="747.56" width="2.5" height="18.84" fill="#f6b07c" stroke="#f08228" stroke-width="1.0"/>
<rect x="532.19" y="765.50" width="2.5" height="0.90" fill="#f6b07c" stroke="#f08228" stroke-width="1.0"/>
<rect x="535.43" y="757.43" width="2.5" height="8.97" fill="#f6b07c" stroke="#f08228" stroke-width="1.0"/>
<rect x="538.66" y="741.28" width="2.5" height="25.12" fill="#f6b07c" stroke="#f08228" stroke-width="1.0"/>
<rect x="541.90" y="761.91" width="2.5" height="4.49" fill="#f6b07c" stroke="#f08228" stroke-width="1.0"/>
<rect x="545.14" y="745.77" width="2.5" height="20.63" fill="#f6b07c" stroke="#f08228" stroke-width="1.0"/>
<rect x="548.38" y="757.43" width="2.5" height="8.97" fill="#f6b07c" stroke="#f08228" stroke-width="1.0"/>
<rect x="551.62" y="737.70" width="2.5" height="28.70" fill="#f6b07c" stroke="#f08228" stroke-width="1.0"/>
<rect x="554.86" y="687.46" width="2.5" height="78.94" fill="#f6b07c" stroke="#f08228" stroke-width="1.0"/>
<rect x="558.10" y="677.60" width="2.5" height="88.80" fill="#f6b07c" stroke="#f08228" stroke-width="1.0"/>
<rect x="561.34" y="677.60" width="2.5" height="88.80" fill="#f6b07c" stroke="#f08228" stroke-width="1.0"/>
<rect x="564.58" y="677.60" width="2.5" height="88.80" fill="#f6b07c" stroke="#f08228" stroke-width="1.0"/>
<rect x="567.82" y="679.39" width="2.5" height="87.01" fill="#f6b07c" stroke="#f08228" stroke-width="1.0"/>
<rect x="571.06" y="677.60" width="2.5" height="88.80" fill="#f6b07c" stroke="#f08228" stroke-width="1.0"/>
<rect x="574.30" y="708.10" width="2.5" height="58.30" fill="#f6b07c" stroke="#f08228" stroke-width="1.0"/>
<rect x="577.54" y="706.30" width="2.5" height="60.10" fill="#f6b07c" stroke="#f08228" stroke-width="1.0"/>
<rect x="580.78" y="686.57" width="2.5" height="79.83" fill="#f6b07c" stroke="#f08228" stroke-width="1.0"/>
<rect x="584.02" y="677.60" width="2.5" height="88.80" fill="#f6b07c" stroke="#f08228" stroke-width="1.0"/>
<rect x="587.26" y="677.60" width="2.5" height="88.80" fill="#f6b07c" stroke="#f08228" stroke-width="1.0"/>
<rect x="590.50" y="677.60" width="2.5" height="88.80" fill="#f6b07c" stroke="#f08228" stroke-width="1.0"/>
<rect x="104.57" y="759.22" width="2.5" height="7.18" fill="none" stroke="#00dc00" stroke-width="1.8"/>
<rect x="107.81" y="761.91" width="2.5" height="4.49" fill="none" stroke="#00dc00" stroke-width="1.8"/>
<rect x="124.01" y="744.87" width="2.5" height="21.53" fill="none" stroke="#00dc00" stroke-width="1.8"/>
<rect x="127.25" y="741.28" width="2.5" height="25.12" fill="none" stroke="#00dc00" stroke-width="1.8"/>
<rect x="130.49" y="694.64" width="2.5" height="71.76" fill="none" stroke="#00dc00" stroke-width="1.8"/>
<rect x="133.73" y="691.05" width="2.5" height="75.35" fill="none" stroke="#00dc00" stroke-width="1.8"/>
<rect x="136.97" y="676.70" width="2.5" height="89.70" fill="none" stroke="#00dc00" stroke-width="1.8"/>
<rect x="140.21" y="682.98" width="2.5" height="83.42" fill="none" stroke="#00dc00" stroke-width="1.8"/>
<rect x="143.45" y="763.71" width="2.5" height="2.69" fill="none" stroke="#00dc00" stroke-width="1.8"/>
<rect x="156.40" y="760.12" width="2.5" height="6.28" fill="none" stroke="#00dc00" stroke-width="1.8"/>
<rect x="159.64" y="750.25" width="2.5" height="16.15" fill="none" stroke="#00dc00" stroke-width="1.8"/>
<rect x="162.88" y="739.49" width="2.5" height="26.91" fill="none" stroke="#00dc00" stroke-width="1.8"/>
<rect x="166.12" y="742.18" width="2.5" height="24.22" fill="none" stroke="#00dc00" stroke-width="1.8"/>
<rect x="169.36" y="760.12" width="2.5" height="6.28" fill="none" stroke="#00dc00" stroke-width="1.8"/>
<rect x="172.60" y="748.46" width="2.5" height="17.94" fill="none" stroke="#00dc00" stroke-width="1.8"/>
<rect x="525.71" y="764.16" width="2.5" height="2.24" fill="none" stroke="#00dc00" stroke-width="1.8"/>
<rect x="551.62" y="761.02" width="2.5" height="5.38" fill="none" stroke="#00dc00" stroke-width="1.8"/>
<rect x="554.86" y="733.21" width="2.5" height="33.19" fill="none" stroke="#00dc00" stroke-width="1.8"/>
<rect x="558.10" y="679.39" width="2.5" height="87.01" fill="none" stroke="#00dc00" stroke-width="1.8"/>
<rect x="561.34" y="677.96" width="2.5" height="88.44" fill="none" stroke="#00dc00" stroke-width="1.8"/>
<rect x="564.58" y="688.36" width="2.5" height="78.04" fill="none" stroke="#00dc00" stroke-width="1.8"/>
<rect x="567.82" y="703.61" width="2.5" height="62.79" fill="none" stroke="#00dc00" stroke-width="1.8"/>
<rect x="571.06" y="695.54" width="2.5" height="70.86" fill="none" stroke="#00dc00" stroke-width="1.8"/>
<rect x="574.30" y="696.43" width="2.5" height="69.97" fill="none" stroke="#00dc00" stroke-width="1.8"/>
<rect x="577.54" y="679.39" width="2.5" height="87.01" fill="none" stroke="#00dc00" stroke-width="1.8"/>
<rect x="580.78" y="677.96" width="2.5" height="88.44" fill="none" stroke="#00dc00" stroke-width="1.8"/>
<rect x="584.02" y="677.60" width="2.5" height="88.80" fill="none" stroke="#00dc00" stroke-width="1.8"/>
<rect x="587.26" y="677.60" width="2.5" height="88.80" fill="none" stroke="#00dc00" stroke-width="1.8"/>
<rect x="590.50" y="676.70" width="2.5" height="89.70" fill="none" stroke="#00dc00" stroke-width="1.8"/>
</g>
<rect x="252.2" y="662.5" width="6.5" height="9.5" fill="none" stroke="#1e3cff" stroke-width="1.1" opacity="0.85"/>
<rect x="372.5" y="662.5" width="5.5" height="10.5" fill="none" stroke="#00dc00" stroke-width="1.1" opacity="0.85"/>
<rect x="492.8" y="662.5" width="5.5" height="10.5" fill="none" stroke="#f08228" stroke-width="1.1" opacity="0.85"/>
<path d="M50.4,46.7H591.4V136.4H50.4Z" stroke="#000" stroke-width="1.8" fill="none"/>
<path d="M46.9,136.4H50.4 M46.9,123.6H50.4 M46.9,110.8H50.4 M46.9,98.0H50.4 M46.9,85.1H50.4 M46.9,72.3H50.4 M46.9,59.5H50.4 M46.9,46.7H50.4 M50.4,136.4V139.9 M128.1,136.4V139.9 M205.9,136.4V139.9 M283.6,136.4V139.9 M361.4,136.4V139.9 M439.1,136.4V139.9 M516.9,136.4V139.9" stroke="#000" stroke-width="1.2" fill="none"/>
<text transform="translate(43.60,141.50) scale(0.84,1)" font-size="12.5" fill="#000" text-anchor="end" textLength="7.14" lengthAdjust="spacing" stroke="#000" stroke-width="0.3">0</text>
<text transform="translate(43.60,128.69) scale(0.84,1)" font-size="12.5" fill="#000" text-anchor="end" textLength="7.14" lengthAdjust="spacing" stroke="#000" stroke-width="0.3">1</text>
<text transform="translate(43.60,115.87) scale(0.84,1)" font-size="12.5" fill="#000" text-anchor="end" textLength="7.14" lengthAdjust="spacing" stroke="#000" stroke-width="0.3">2</text>
<text transform="translate(43.60,103.06) scale(0.84,1)" font-size="12.5" fill="#000" text-anchor="end" textLength="7.14" lengthAdjust="spacing" stroke="#000" stroke-width="0.3">3</text>
<text transform="translate(43.60,90.24) scale(0.84,1)" font-size="12.5" fill="#000" text-anchor="end" textLength="7.14" lengthAdjust="spacing" stroke="#000" stroke-width="0.3">4</text>
<text transform="translate(43.60,77.43) scale(0.84,1)" font-size="12.5" fill="#000" text-anchor="end" textLength="7.14" lengthAdjust="spacing" stroke="#000" stroke-width="0.3">5</text>
<text transform="translate(43.60,64.61) scale(0.84,1)" font-size="12.5" fill="#000" text-anchor="end" textLength="7.14" lengthAdjust="spacing" stroke="#000" stroke-width="0.3">6</text>
<text transform="translate(43.60,51.80) scale(0.84,1)" font-size="12.5" fill="#000" text-anchor="end" textLength="7.14" lengthAdjust="spacing" stroke="#000" stroke-width="0.3">7</text>
<text transform="translate(50.40,150.70) scale(0.72,1)" font-size="12.5" fill="#000" text-anchor="middle" textLength="33.61" lengthAdjust="spacing" stroke="#000" stroke-width="0.3">7APR</text>
<text transform="translate(128.15,150.70) scale(0.72,1)" font-size="12.5" fill="#000" text-anchor="middle" textLength="33.61" lengthAdjust="spacing" stroke="#000" stroke-width="0.3">8APR</text>
<text transform="translate(205.90,150.70) scale(0.72,1)" font-size="12.5" fill="#000" text-anchor="middle" textLength="33.61" lengthAdjust="spacing" stroke="#000" stroke-width="0.3">9APR</text>
<text transform="translate(283.64,150.70) scale(0.72,1)" font-size="12.5" fill="#000" text-anchor="middle" textLength="41.67" lengthAdjust="spacing" stroke="#000" stroke-width="0.3">10APR</text>
<text transform="translate(361.39,150.70) scale(0.72,1)" font-size="12.5" fill="#000" text-anchor="middle" textLength="41.67" lengthAdjust="spacing" stroke="#000" stroke-width="0.3">11APR</text>
<text transform="translate(439.14,150.70) scale(0.72,1)" font-size="12.5" fill="#000" text-anchor="middle" textLength="41.67" lengthAdjust="spacing" stroke="#000" stroke-width="0.3">12APR</text>
<text transform="translate(516.89,150.70) scale(0.72,1)" font-size="12.5" fill="#000" text-anchor="middle" textLength="41.67" lengthAdjust="spacing" stroke="#000" stroke-width="0.3">13APR</text>
<text transform="translate(50.40,161.80) scale(0.86,1)" font-size="12.5" fill="#000" text-anchor="middle" textLength="28.60" lengthAdjust="spacing" stroke="#000" stroke-width="0.3">2026</text>
<path d="M50.4,172.7H591.4V262.4H50.4Z" stroke="#000" stroke-width="1.8" fill="none"/>
<path d="M46.9,262.4H50.4 M46.9,246.8H50.4 M46.9,231.2H50.4 M46.9,215.6H50.4 M46.9,200.0H50.4 M46.9,184.4H50.4 M50.4,262.4V265.9 M128.1,262.4V265.9 M205.9,262.4V265.9 M283.6,262.4V265.9 M361.4,262.4V265.9 M439.1,262.4V265.9 M516.9,262.4V265.9" stroke="#000" stroke-width="1.2" fill="none"/>
<text transform="translate(43.60,267.50) scale(0.84,1)" font-size="12.5" fill="#000" text-anchor="end" textLength="14.29" lengthAdjust="spacing" stroke="#000" stroke-width="0.3">12</text>
<text transform="translate(43.60,251.90) scale(0.84,1)" font-size="12.5" fill="#000" text-anchor="end" textLength="14.29" lengthAdjust="spacing" stroke="#000" stroke-width="0.3">16</text>
<text transform="translate(43.60,236.30) scale(0.84,1)" font-size="12.5" fill="#000" text-anchor="end" textLength="14.29" lengthAdjust="spacing" stroke="#000" stroke-width="0.3">20</text>
<text transform="translate(43.60,220.70) scale(0.84,1)" font-size="12.5" fill="#000" text-anchor="end" textLength="14.29" lengthAdjust="spacing" stroke="#000" stroke-width="0.3">24</text>
<text transform="translate(43.60,205.10) scale(0.84,1)" font-size="12.5" fill="#000" text-anchor="end" textLength="14.29" lengthAdjust="spacing" stroke="#000" stroke-width="0.3">28</text>
<text transform="translate(43.60,189.50) scale(0.84,1)" font-size="12.5" fill="#000" text-anchor="end" textLength="14.29" lengthAdjust="spacing" stroke="#000" stroke-width="0.3">32</text>
<text transform="translate(50.40,276.70) scale(0.72,1)" font-size="12.5" fill="#000" text-anchor="middle" textLength="33.61" lengthAdjust="spacing" stroke="#000" stroke-width="0.3">7APR</text>
<text transform="translate(128.15,276.70) scale(0.72,1)" font-size="12.5" fill="#000" text-anchor="middle" textLength="33.61" lengthAdjust="spacing" stroke="#000" stroke-width="0.3">8APR</text>
<text transform="translate(205.90,276.70) scale(0.72,1)" font-size="12.5" fill="#000" text-anchor="middle" textLength="33.61" lengthAdjust="spacing" stroke="#000" stroke-width="0.3">9APR</text>
<text transform="translate(283.64,276.70) scale(0.72,1)" font-size="12.5" fill="#000" text-anchor="middle" textLength="41.67" lengthAdjust="spacing" stroke="#000" stroke-width="0.3">10APR</text>
<text transform="translate(361.39,276.70) scale(0.72,1)" font-size="12.5" fill="#000" text-anchor="middle" textLength="41.67" lengthAdjust="spacing" stroke="#000" stroke-width="0.3">11APR</text>
<text transform="translate(439.14,276.70) scale(0.72,1)" font-size="12.5" fill="#000" text-anchor="middle" textLength="41.67" lengthAdjust="spacing" stroke="#000" stroke-width="0.3">12APR</text>
<text transform="translate(516.89,276.70) scale(0.72,1)" font-size="12.5" fill="#000" text-anchor="middle" textLength="41.67" lengthAdjust="spacing" stroke="#000" stroke-width="0.3">13APR</text>
<text transform="translate(50.40,287.80) scale(0.86,1)" font-size="12.5" fill="#000" text-anchor="middle" textLength="28.60" lengthAdjust="spacing" stroke="#000" stroke-width="0.3">2026</text>
<path d="M50.4,298.7H591.4V388.4H50.4Z" stroke="#000" stroke-width="1.8" fill="none"/>
<path d="M46.9,388.4H50.4 M46.9,370.5H50.4 M46.9,352.5H50.4 M46.9,334.6H50.4 M46.9,316.6H50.4 M46.9,298.7H50.4 M50.4,388.4V391.9 M128.1,388.4V391.9 M205.9,388.4V391.9 M283.6,388.4V391.9 M361.4,388.4V391.9 M439.1,388.4V391.9 M516.9,388.4V391.9" stroke="#000" stroke-width="1.2" fill="none"/>
<text transform="translate(43.60,393.50) scale(0.84,1)" font-size="12.5" fill="#000" text-anchor="end" textLength="7.14" lengthAdjust="spacing" stroke="#000" stroke-width="0.3">0</text>
<text transform="translate(43.60,375.56) scale(0.84,1)" font-size="12.5" fill="#000" text-anchor="end" textLength="14.29" lengthAdjust="spacing" stroke="#000" stroke-width="0.3">20</text>
<text transform="translate(43.60,357.62) scale(0.84,1)" font-size="12.5" fill="#000" text-anchor="end" textLength="14.29" lengthAdjust="spacing" stroke="#000" stroke-width="0.3">40</text>
<text transform="translate(43.60,339.68) scale(0.84,1)" font-size="12.5" fill="#000" text-anchor="end" textLength="14.29" lengthAdjust="spacing" stroke="#000" stroke-width="0.3">60</text>
<text transform="translate(43.60,321.74) scale(0.84,1)" font-size="12.5" fill="#000" text-anchor="end" textLength="14.29" lengthAdjust="spacing" stroke="#000" stroke-width="0.3">80</text>
<text transform="translate(43.60,303.80) scale(0.84,1)" font-size="12.5" fill="#000" text-anchor="end" textLength="21.43" lengthAdjust="spacing" stroke="#000" stroke-width="0.3">100</text>
<text transform="translate(50.40,402.70) scale(0.72,1)" font-size="12.5" fill="#000" text-anchor="middle" textLength="33.61" lengthAdjust="spacing" stroke="#000" stroke-width="0.3">7APR</text>
<text transform="translate(128.15,402.70) scale(0.72,1)" font-size="12.5" fill="#000" text-anchor="middle" textLength="33.61" lengthAdjust="spacing" stroke="#000" stroke-width="0.3">8APR</text>
<text transform="translate(205.90,402.70) scale(0.72,1)" font-size="12.5" fill="#000" text-anchor="middle" textLength="33.61" lengthAdjust="spacing" stroke="#000" stroke-width="0.3">9APR</text>
<text transform="translate(283.64,402.70) scale(0.72,1)" font-size="12.5" fill="#000" text-anchor="middle" textLength="41.67" lengthAdjust="spacing" stroke="#000" stroke-width="0.3">10APR</text>
<text transform="translate(361.39,402.70) scale(0.72,1)" font-size="12.5" fill="#000" text-anchor="middle" textLength="41.67" lengthAdjust="spacing" stroke="#000" stroke-width="0.3">11APR</text>
<text transform="translate(439.14,402.70) scale(0.72,1)" font-size="12.5" fill="#000" text-anchor="middle" textLength="41.67" lengthAdjust="spacing" stroke="#000" stroke-width="0.3">12APR</text>
<text transform="translate(516.89,402.70) scale(0.72,1)" font-size="12.5" fill="#000" text-anchor="middle" textLength="41.67" lengthAdjust="spacing" stroke="#000" stroke-width="0.3">13APR</text>
<text transform="translate(50.40,413.80) scale(0.86,1)" font-size="12.5" fill="#000" text-anchor="middle" textLength="28.60" lengthAdjust="spacing" stroke="#000" stroke-width="0.3">2026</text>
<path d="M50.4,424.8H591.4V514.5H50.4Z" stroke="#000" stroke-width="1.8" fill="none"/>
<path d="M46.9,514.5H50.4 M46.9,492.1H50.4 M46.9,469.6H50.4 M46.9,447.2H50.4 M46.9,424.8H50.4 M50.4,514.5V518.0 M128.1,514.5V518.0 M205.9,514.5V518.0 M283.6,514.5V518.0 M361.4,514.5V518.0 M439.1,514.5V518.0 M516.9,514.5V518.0" stroke="#000" stroke-width="1.2" fill="none"/>
<text transform="translate(43.60,519.60) scale(0.84,1)" font-size="12.5" fill="#000" text-anchor="end" textLength="7.14" lengthAdjust="spacing" stroke="#000" stroke-width="0.3">0</text>
<text transform="translate(43.60,497.18) scale(0.84,1)" font-size="12.5" fill="#000" text-anchor="end" textLength="7.14" lengthAdjust="spacing" stroke="#000" stroke-width="0.3">2</text>
<text transform="translate(43.60,474.75) scale(0.84,1)" font-size="12.5" fill="#000" text-anchor="end" textLength="7.14" lengthAdjust="spacing" stroke="#000" stroke-width="0.3">4</text>
<text transform="translate(43.60,452.33) scale(0.84,1)" font-size="12.5" fill="#000" text-anchor="end" textLength="7.14" lengthAdjust="spacing" stroke="#000" stroke-width="0.3">6</text>
<text transform="translate(43.60,429.90) scale(0.84,1)" font-size="12.5" fill="#000" text-anchor="end" textLength="7.14" lengthAdjust="spacing" stroke="#000" stroke-width="0.3">8</text>
<text transform="translate(50.40,528.80) scale(0.72,1)" font-size="12.5" fill="#000" text-anchor="middle" textLength="33.61" lengthAdjust="spacing" stroke="#000" stroke-width="0.3">7APR</text>
<text transform="translate(128.15,528.80) scale(0.72,1)" font-size="12.5" fill="#000" text-anchor="middle" textLength="33.61" lengthAdjust="spacing" stroke="#000" stroke-width="0.3">8APR</text>
<text transform="translate(205.90,528.80) scale(0.72,1)" font-size="12.5" fill="#000" text-anchor="middle" textLength="33.61" lengthAdjust="spacing" stroke="#000" stroke-width="0.3">9APR</text>
<text transform="translate(283.64,528.80) scale(0.72,1)" font-size="12.5" fill="#000" text-anchor="middle" textLength="41.67" lengthAdjust="spacing" stroke="#000" stroke-width="0.3">10APR</text>
<text transform="translate(361.39,528.80) scale(0.72,1)" font-size="12.5" fill="#000" text-anchor="middle" textLength="41.67" lengthAdjust="spacing" stroke="#000" stroke-width="0.3">11APR</text>
<text transform="translate(439.14,528.80) scale(0.72,1)" font-size="12.5" fill="#000" text-anchor="middle" textLength="41.67" lengthAdjust="spacing" stroke="#000" stroke-width="0.3">12APR</text>
<text transform="translate(516.89,528.80) scale(0.72,1)" font-size="12.5" fill="#000" text-anchor="middle" textLength="41.67" lengthAdjust="spacing" stroke="#000" stroke-width="0.3">13APR</text>
<text transform="translate(50.40,539.90) scale(0.86,1)" font-size="12.5" fill="#000" text-anchor="middle" textLength="28.60" lengthAdjust="spacing" stroke="#000" stroke-width="0.3">2026</text>
<path d="M50.4,550.8H591.4V640.6H50.4Z" stroke="#000" stroke-width="1.8" fill="none"/>
<path d="M46.9,632.4H50.4 M46.9,616.1H50.4 M46.9,599.8H50.4 M46.9,583.5H50.4 M46.9,567.1H50.4 M46.9,550.8H50.4 M50.4,640.6V644.1 M128.1,640.6V644.1 M205.9,640.6V644.1 M283.6,640.6V644.1 M361.4,640.6V644.1 M439.1,640.6V644.1 M516.9,640.6V644.1" stroke="#000" stroke-width="1.2" fill="none"/>
<text transform="translate(43.60,637.54) scale(0.84,1)" font-size="12.5" fill="#000" text-anchor="end" textLength="28.57" lengthAdjust="spacing" stroke="#000" stroke-width="0.3">1010</text>
<text transform="translate(43.60,621.21) scale(0.84,1)" font-size="12.5" fill="#000" text-anchor="end" textLength="28.57" lengthAdjust="spacing" stroke="#000" stroke-width="0.3">1012</text>
<text transform="translate(43.60,604.88) scale(0.84,1)" font-size="12.5" fill="#000" text-anchor="end" textLength="28.57" lengthAdjust="spacing" stroke="#000" stroke-width="0.3">1014</text>
<text transform="translate(43.60,588.55) scale(0.84,1)" font-size="12.5" fill="#000" text-anchor="end" textLength="28.57" lengthAdjust="spacing" stroke="#000" stroke-width="0.3">1016</text>
<text transform="translate(43.60,572.23) scale(0.84,1)" font-size="12.5" fill="#000" text-anchor="end" textLength="28.57" lengthAdjust="spacing" stroke="#000" stroke-width="0.3">1018</text>
<text transform="translate(43.60,555.90) scale(0.84,1)" font-size="12.5" fill="#000" text-anchor="end" textLength="28.57" lengthAdjust="spacing" stroke="#000" stroke-width="0.3">1020</text>
<text transform="translate(50.40,654.90) scale(0.72,1)" font-size="12.5" fill="#000" text-anchor="middle" textLength="33.61" lengthAdjust="spacing" stroke="#000" stroke-width="0.3">7APR</text>
<text transform="translate(128.15,654.90) scale(0.72,1)" font-size="12.5" fill="#000" text-anchor="middle" textLength="33.61" lengthAdjust="spacing" stroke="#000" stroke-width="0.3">8APR</text>
<text transform="translate(205.90,654.90) scale(0.72,1)" font-size="12.5" fill="#000" text-anchor="middle" textLength="33.61" lengthAdjust="spacing" stroke="#000" stroke-width="0.3">9APR</text>
<text transform="translate(283.64,654.90) scale(0.72,1)" font-size="12.5" fill="#000" text-anchor="middle" textLength="41.67" lengthAdjust="spacing" stroke="#000" stroke-width="0.3">10APR</text>
<text transform="translate(361.39,654.90) scale(0.72,1)" font-size="12.5" fill="#000" text-anchor="middle" textLength="41.67" lengthAdjust="spacing" stroke="#000" stroke-width="0.3">11APR</text>
<text transform="translate(439.14,654.90) scale(0.72,1)" font-size="12.5" fill="#000" text-anchor="middle" textLength="41.67" lengthAdjust="spacing" stroke="#000" stroke-width="0.3">12APR</text>
<text transform="translate(516.89,654.90) scale(0.72,1)" font-size="12.5" fill="#000" text-anchor="middle" textLength="41.67" lengthAdjust="spacing" stroke="#000" stroke-width="0.3">13APR</text>
<text transform="translate(50.40,666.00) scale(0.86,1)" font-size="12.5" fill="#000" text-anchor="middle" textLength="28.60" lengthAdjust="spacing" stroke="#000" stroke-width="0.3">2026</text>
<path d="M50.4,676.7H591.4V766.4H50.4Z" stroke="#000" stroke-width="1.8" fill="none"/>
<path d="M46.9,766.4H50.4 M46.9,748.5H50.4 M46.9,730.5H50.4 M46.9,712.6H50.4 M46.9,694.6H50.4 M46.9,676.7H50.4 M50.4,766.4V769.9 M128.1,766.4V769.9 M205.9,766.4V769.9 M283.6,766.4V769.9 M361.4,766.4V769.9 M439.1,766.4V769.9 M516.9,766.4V769.9" stroke="#000" stroke-width="1.2" fill="none"/>
<text transform="translate(43.60,771.50) scale(0.84,1)" font-size="12.5" fill="#000" text-anchor="end" textLength="7.14" lengthAdjust="spacing" stroke="#000" stroke-width="0.3">0</text>
<text transform="translate(43.60,753.56) scale(0.84,1)" font-size="12.5" fill="#000" text-anchor="end" textLength="14.29" lengthAdjust="spacing" stroke="#000" stroke-width="0.3">20</text>
<text transform="translate(43.60,735.62) scale(0.84,1)" font-size="12.5" fill="#000" text-anchor="end" textLength="14.29" lengthAdjust="spacing" stroke="#000" stroke-width="0.3">40</text>
<text transform="translate(43.60,717.68) scale(0.84,1)" font-size="12.5" fill="#000" text-anchor="end" textLength="14.29" lengthAdjust="spacing" stroke="#000" stroke-width="0.3">60</text>
<text transform="translate(43.60,699.74) scale(0.84,1)" font-size="12.5" fill="#000" text-anchor="end" textLength="14.29" lengthAdjust="spacing" stroke="#000" stroke-width="0.3">80</text>
<text transform="translate(43.60,681.80) scale(0.84,1)" font-size="12.5" fill="#000" text-anchor="end" textLength="21.43" lengthAdjust="spacing" stroke="#000" stroke-width="0.3">100</text>
<text transform="translate(50.40,780.70) scale(0.72,1)" font-size="12.5" fill="#000" text-anchor="middle" textLength="33.61" lengthAdjust="spacing" stroke="#000" stroke-width="0.3">7APR</text>
<text transform="translate(128.15,780.70) scale(0.72,1)" font-size="12.5" fill="#000" text-anchor="middle" textLength="33.61" lengthAdjust="spacing" stroke="#000" stroke-width="0.3">8APR</text>
<text transform="translate(205.90,780.70) scale(0.72,1)" font-size="12.5" fill="#000" text-anchor="middle" textLength="33.61" lengthAdjust="spacing" stroke="#000" stroke-width="0.3">9APR</text>
<text transform="translate(283.64,780.70) scale(0.72,1)" font-size="12.5" fill="#000" text-anchor="middle" textLength="41.67" lengthAdjust="spacing" stroke="#000" stroke-width="0.3">10APR</text>
<text transform="translate(361.39,780.70) scale(0.72,1)" font-size="12.5" fill="#000" text-anchor="middle" textLength="41.67" lengthAdjust="spacing" stroke="#000" stroke-width="0.3">11APR</text>
<text transform="translate(439.14,780.70) scale(0.72,1)" font-size="12.5" fill="#000" text-anchor="middle" textLength="41.67" lengthAdjust="spacing" stroke="#000" stroke-width="0.3">12APR</text>
<text transform="translate(516.89,780.70) scale(0.72,1)" font-size="12.5" fill="#000" text-anchor="middle" textLength="41.67" lengthAdjust="spacing" stroke="#000" stroke-width="0.3">13APR</text>
<text transform="translate(50.40,791.80) scale(0.86,1)" font-size="12.5" fill="#000" text-anchor="middle" textLength="28.60" lengthAdjust="spacing" stroke="#000" stroke-width="0.3">2026</text>
<rect x="55.98" y="759.40" width="2.50" height="7.00" fill="none" stroke="#1e3cff" stroke-width="1.1"/>
<rect x="59.22" y="743.98" width="2.50" height="22.42" fill="none" stroke="#1e3cff" stroke-width="1.1"/>
<rect x="62.46" y="748.46" width="2.50" height="17.94" fill="none" stroke="#1e3cff" stroke-width="1.1"/>
<rect x="65.70" y="765.50" width="2.50" height="0.90" fill="none" stroke="#1e3cff" stroke-width="1.1"/>
<rect x="75.42" y="765.50" width="2.50" height="0.90" fill="none" stroke="#1e3cff" stroke-width="1.1"/>
<rect x="98.09" y="763.26" width="2.50" height="3.14" fill="none" stroke="#1e3cff" stroke-width="1.1"/>
<rect x="101.33" y="708.10" width="2.50" height="58.30" fill="none" stroke="#1e3cff" stroke-width="1.1"/>
<rect x="104.57" y="731.42" width="2.50" height="34.98" fill="none" stroke="#1e3cff" stroke-width="1.1"/>
<rect x="107.81" y="700.02" width="2.50" height="66.38" fill="none" stroke="#1e3cff" stroke-width="1.1"/>
<rect x="111.05" y="763.71" width="2.50" height="2.69" fill="none" stroke="#1e3cff" stroke-width="1.1"/>
<rect x="133.73" y="756.53" width="2.50" height="9.87" fill="none" stroke="#1e3cff" stroke-width="1.1"/>
<rect x="136.97" y="758.33" width="2.50" height="8.07" fill="none" stroke="#1e3cff" stroke-width="1.1"/>
<rect x="140.21" y="756.53" width="2.50" height="9.87" fill="none" stroke="#1e3cff" stroke-width="1.1"/>
<rect x="143.45" y="732.76" width="2.50" height="33.64" fill="none" stroke="#1e3cff" stroke-width="1.1"/>
<rect x="146.69" y="710.79" width="2.50" height="55.61" fill="none" stroke="#1e3cff" stroke-width="1.1"/>
<rect x="149.92" y="683.88" width="2.50" height="82.52" fill="none" stroke="#1e3cff" stroke-width="1.1"/>
<rect x="153.16" y="676.70" width="2.50" height="89.70" fill="none" stroke="#1e3cff" stroke-width="1.1"/>
<rect x="156.40" y="676.70" width="2.50" height="89.70" fill="none" stroke="#1e3cff" stroke-width="1.1"/>
<rect x="159.64" y="676.70" width="2.50" height="89.70" fill="none" stroke="#1e3cff" stroke-width="1.1"/>
<rect x="162.88" y="681.19" width="2.50" height="85.21" fill="none" stroke="#1e3cff" stroke-width="1.1"/>
<rect x="166.12" y="707.20" width="2.50" height="59.20" fill="none" stroke="#1e3cff" stroke-width="1.1"/>
<rect x="169.36" y="701.82" width="2.50" height="64.58" fill="none" stroke="#1e3cff" stroke-width="1.1"/>
<rect x="172.60" y="698.23" width="2.50" height="68.17" fill="none" stroke="#1e3cff" stroke-width="1.1"/>
<rect x="175.84" y="705.40" width="2.50" height="61.00" fill="none" stroke="#1e3cff" stroke-width="1.1"/>
<rect x="179.08" y="681.19" width="2.50" height="85.21" fill="none" stroke="#1e3cff" stroke-width="1.1"/>
<rect x="182.32" y="692.40" width="2.50" height="74.00" fill="none" stroke="#1e3cff" stroke-width="1.1"/>
<rect x="185.56" y="751.15" width="2.50" height="15.25" fill="none" stroke="#1e3cff" stroke-width="1.1"/>
<rect x="188.80" y="691.05" width="2.50" height="75.35" fill="none" stroke="#1e3cff" stroke-width="1.1"/>
<rect x="192.04" y="709.89" width="2.50" height="56.51" fill="none" stroke="#1e3cff" stroke-width="1.1"/>
<rect x="195.28" y="760.12" width="2.50" height="6.28" fill="none" stroke="#1e3cff" stroke-width="1.1"/>
<rect x="205.00" y="765.50" width="2.50" height="0.90" fill="none" stroke="#1e3cff" stroke-width="1.1"/>
<rect x="590.50" y="750.25" width="1.30" height="16.15" fill="none" stroke="#1e3cff" stroke-width="1.1"/>
<path d="M50.4,766.4H591.4" stroke="#1e3cff" stroke-width="1.5"/>
<path d="M50.40,136.40H591.40 M50.40,123.59H591.40 M50.40,110.77H591.40 M50.40,97.96H591.40 M50.40,85.14H591.40 M50.40,72.33H591.40 M50.40,59.51H591.40 M50.40,46.70H591.40 M50.40,136.40V46.70 M128.15,136.40V46.70 M205.90,136.40V46.70 M283.64,136.40V46.70 M361.39,136.40V46.70 M439.14,136.40V46.70 M516.89,136.40V46.70" stroke="#a4a4a4" stroke-width="1.3" stroke-dasharray="1.8 4.68" stroke-dashoffset="0.9" fill="none"/>
<path d="M50.40,262.40H591.40 M50.40,246.80H591.40 M50.40,231.20H591.40 M50.40,215.60H591.40 M50.40,200.00H591.40 M50.40,184.40H591.40 M50.40,262.40V172.70 M128.15,262.40V172.70 M205.90,262.40V172.70 M283.64,262.40V172.70 M361.39,262.40V172.70 M439.14,262.40V172.70 M516.89,262.40V172.70" stroke="#a4a4a4" stroke-width="1.3" stroke-dasharray="1.8 4.68" stroke-dashoffset="0.9" fill="none"/>
<path d="M50.40,388.40H591.40 M50.40,370.46H591.40 M50.40,352.52H591.40 M50.40,334.58H591.40 M50.40,316.64H591.40 M50.40,298.70H591.40 M50.40,388.40V298.70 M128.15,388.40V298.70 M205.90,388.40V298.70 M283.64,388.40V298.70 M361.39,388.40V298.70 M439.14,388.40V298.70 M516.89,388.40V298.70" stroke="#a4a4a4" stroke-width="1.3" stroke-dasharray="1.8 4.68" stroke-dashoffset="0.9" fill="none"/>
<path d="M50.40,514.50H591.40 M50.40,492.07H591.40 M50.40,469.65H591.40 M50.40,447.23H591.40 M50.40,424.80H591.40 M50.40,514.50V424.80 M128.15,514.50V424.80 M205.90,514.50V424.80 M283.64,514.50V424.80 M361.39,514.50V424.80 M439.14,514.50V424.80 M516.89,514.50V424.80" stroke="#a4a4a4" stroke-width="1.3" stroke-dasharray="1.8 4.68" stroke-dashoffset="0.9" fill="none"/>
<path d="M50.40,632.44H591.40 M50.40,616.11H591.40 M50.40,599.78H591.40 M50.40,583.45H591.40 M50.40,567.13H591.40 M50.40,550.80H591.40 M50.40,640.60V550.80 M128.15,640.60V550.80 M205.90,640.60V550.80 M283.64,640.60V550.80 M361.39,640.60V550.80 M439.14,640.60V550.80 M516.89,640.60V550.80" stroke="#a4a4a4" stroke-width="1.3" stroke-dasharray="1.8 4.68" stroke-dashoffset="0.9" fill="none"/>
<path d="M50.40,766.40H591.40 M50.40,748.46H591.40 M50.40,730.52H591.40 M50.40,712.58H591.40 M50.40,694.64H591.40 M50.40,676.70H591.40 M50.40,766.40V676.70 M128.15,766.40V676.70 M205.90,766.40V676.70 M283.64,766.40V676.70 M361.39,766.40V676.70 M439.14,766.40V676.70 M516.89,766.40V676.70" stroke="#a4a4a4" stroke-width="1.3" stroke-dasharray="1.8 4.68" stroke-dashoffset="0.9" fill="none"/>
</svg></body></html>
